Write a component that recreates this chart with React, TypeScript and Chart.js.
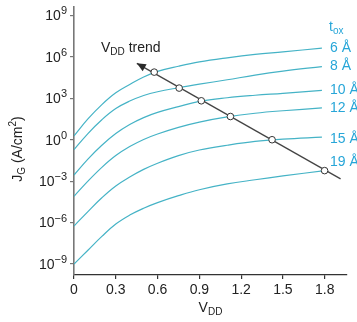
import React, { useEffect, useRef } from "react";
import { Chart, registerables } from "chart.js";

Chart.register(...registerables);

// ---- data ----
const voltages = [0, 0.1, 0.2, 0.3, 0.4, 0.5, 0.6, 0.75, 0.9, 1.1, 1.3, 1.5, 1.78];
const voltages19 = [0, 0.1, 0.2, 0.3, 0.4, 0.5, 0.6, 0.75, 0.9, 1.1, 1.3, 1.5, 1.8];

const jg6A = [1.9e0, 3.2e1, 3.5e2, 2.5e3, 1.0e4, 3.5e4, 8.9e4, 2.1e5, 4.3e5, 8.5e5, 1.5e6, 2.3e6, 4.3e6];
const jg8A = [1.9e-1, 2.8e0, 2.8e1, 1.8e2, 6.3e2, 1.6e3, 3.0e3, 5.8e3, 1.05e4, 2.2e4, 4.8e4, 9.3e4, 2.0e5];
const jg10A = [2.8e-3, 4.0e-2, 4.0e-1, 2.8e0, 1.26e1, 4.0e1, 9.5e1, 2.5e2, 6.0e2, 1.1e3, 1.66e3, 2.3e3, 3.8e3];
const jg12A = [8.0e-5, 1.0e-3, 1.0e-2, 7.1e-2, 3.2e-1, 1.05e0, 2.6e0, 7.9e0, 1.9e1, 4.5e1, 8.3e1, 1.26e2, 2.0e2];
const jg15A = [5.6e-7, 6.3e-6, 6.3e-5, 4.5e-4, 2.0e-3, 7.1e-3, 2.0e-2, 7.1e-2, 1.8e-1, 4.0e-1, 7.6e-1, 1.1e0, 1.55e0];
const jg19A = [1.0e-9, 1.0e-8, 1.0e-7, 7.9e-7, 3.5e-6, 1.1e-5, 2.8e-5, 8.9e-5, 2.4e-4, 6.3e-4, 1.26e-3, 2.4e-3, 5.8e-3];

const oxideLabels = ["6 Å", "8 Å", "10 Å", "12 Å", "15 Å", "19 Å"];

const markerV = [0.576, 0.755, 0.914, 1.123, 1.422, 1.799];
const markerJ = [7.9e4, 5.5e3, 6.6e2, 4.8e1, 1.0e0, 5.8e-3];

const trendV = [0.451, 1.914];
const trendJ = [3.4e5, 1.45e-3];

const xTicks = [0, 0.3, 0.6, 0.9, 1.2, 1.5, 1.8];
const yTicks = [1e9, 1e6, 1e3, 1e0, 1e-3, 1e-6, 1e-9];
const yTickExponents = ["9", "6", "3", "0", "\u22123", "\u22126", "\u22129"];

// ---- style / layout ----
const FONT = "'Liberation Sans', Arial, Helvetica, sans-serif";
const CURVE_COLOR = "#45b3c6";
const LABEL_COLOR = "#27a6d8";
const TEXT_COLOR = "#222222";
const labelDy = [0, 0, 0, 0, 2.5, -8];

function toPoints(xs: number[], ys: number[]) {
  return xs.map((x, i) => ({ x, y: ys[i] }));
}

export default function App() {
  const canvasRef = useRef<HTMLCanvasElement | null>(null);

  useEffect(() => {
    const canvas = canvasRef.current;
    if (!canvas) return;

    const curves = [
      toPoints(voltages, jg6A),
      toPoints(voltages, jg8A),
      toPoints(voltages, jg10A),
      toPoints(voltages, jg12A),
      toPoints(voltages, jg15A),
      toPoints(voltages19, jg19A),
    ];

    const drawRich = (
      ctx: CanvasRenderingContext2D,
      parts: { t: string; size: number; dy: number }[],
      x: number,
      y: number,
      align: "left" | "center" | "right"
    ) => {
      let total = 0;
      const widths = parts.map((p) => {
        ctx.font = `${p.size}px ${FONT}`;
        const w = ctx.measureText(p.t).width;
        total += w;
        return w;
      });
      let cx = align === "left" ? x : align === "center" ? x - total / 2 : x - total;
      parts.forEach((p, i) => {
        ctx.font = `${p.size}px ${FONT}`;
        ctx.textAlign = "left";
        ctx.textBaseline = "alphabetic";
        ctx.fillText(p.t, cx, y + p.dy);
        cx += widths[i];
      });
    };

    const annotations = {
      id: "annotations",
      afterDatasetsDraw(chart: any) {
        const ctx: CanvasRenderingContext2D = chart.ctx;
        const xs = chart.scales.x;
        const ys = chart.scales.y;
        ctx.save();

        // arrowhead on trend line
        const x0 = xs.getPixelForValue(trendV[0]);
        const y0 = ys.getPixelForValue(trendJ[0]);
        const x1 = xs.getPixelForValue(trendV[1]);
        const y1 = ys.getPixelForValue(trendJ[1]);
        const ang = Math.atan2(y0 - y1, x0 - x1);
        const L = 9;
        const W = 4;
        ctx.fillStyle = "#2a2a2a";
        ctx.beginPath();
        ctx.moveTo(x0, y0);
        ctx.lineTo(
          x0 - L * Math.cos(ang) + W * Math.sin(ang),
          y0 - L * Math.sin(ang) - W * Math.cos(ang)
        );
        ctx.lineTo(
          x0 - L * Math.cos(ang) - W * Math.sin(ang),
          y0 - L * Math.sin(ang) + W * Math.cos(ang)
        );
        ctx.closePath();
        ctx.fill();

        // curve labels
        ctx.fillStyle = LABEL_COLOR;
        ctx.font = `14px ${FONT}`;
        ctx.textAlign = "left";
        ctx.textBaseline = "middle";
        curves.forEach((pts, i) => {
          const last = pts[pts.length - 1];
          const py = ys.getPixelForValue(last.y) + labelDy[i];
          ctx.fillText(oxideLabels[i], xs.right - 17, py);
        });
        // t_ox header
        drawRich(
          ctx,
          [
            { t: "t", size: 14, dy: 0 },
            { t: "ox", size: 10, dy: 3 },
          ],
          xs.right - 18,
          31,
          "left"
        );

        // V_DD trend
        ctx.fillStyle = TEXT_COLOR;
        drawRich(
          ctx,
          [
            { t: "V", size: 14, dy: 0 },
            { t: "DD", size: 10, dy: 3 },
            { t: " trend", size: 14, dy: 0 },
          ],
          101,
          51.5,
          "left"
        );

        // y tick labels 10^n
        yTicks.forEach((v, i) => {
          const py = ys.getPixelForValue(v);
          ctx.font = `11px ${FONT}`;
          const ew = ctx.measureText(yTickExponents[i]).width;
          const right = xs.left - 7;
          ctx.textAlign = "left";
          ctx.textBaseline = "alphabetic";
          ctx.fillText(yTickExponents[i], right - ew, py - 1);
          ctx.font = `14px ${FONT}`;
          ctx.textAlign = "right";
          ctx.textBaseline = "middle";
          ctx.fillText("10", right - ew, py + 1);
        });

        // x title
        drawRich(
          ctx,
          [
            { t: "V", size: 14, dy: 0 },
            { t: "DD", size: 10, dy: 3 },
          ],
          (xs.left + xs.right) / 2,
          312,
          "center"
        );

        // y title rotated
        ctx.translate(22, (ys.top + ys.bottom) / 2 + 8);
        ctx.rotate(-Math.PI / 2);
        drawRich(
          ctx,
          [
            { t: "J", size: 14, dy: 0 },
            { t: "G", size: 10, dy: 3 },
            { t: " (A/cm", size: 14, dy: 0 },
            { t: "2", size: 10, dy: -6 },
            { t: ")", size: 14, dy: 0 },
          ],
          0,
          0,
          "center"
        );
        ctx.restore();
      },
    };

    const curveDatasets = curves.map((pts) => ({
      type: "line" as const,
      data: pts,
      borderColor: CURVE_COLOR,
      borderWidth: 1.2,
      pointRadius: 0,
      fill: false,
      tension: 0.4,
    }));

    const chart = new Chart(canvas, {
      type: "line",
      data: {
        datasets: [
          {
            type: "line",
            data: toPoints(markerV, markerJ),
            showLine: false,
            pointRadius: 3.3,
            pointBackgroundColor: "#ffffff",
            pointBorderColor: "#333333",
            pointBorderWidth: 1,
            borderColor: "#333333",
          },
          {
            type: "line",
            data: toPoints(trendV, trendJ),
            borderColor: "#444444",
            borderWidth: 1.3,
            pointRadius: 0,
            fill: false,
          },
          ...curveDatasets,
        ] as any,
      },
      options: {
        responsive: false,
        animation: false,
        devicePixelRatio: 1,
        layout: { padding: { top: 7, right: 10, left: 0, bottom: 0 } },
        plugins: {
          legend: { display: false },
          tooltip: { enabled: false },
        },
        scales: {
          x: {
            type: "linear",
            min: 0,
            max: 1.96,
            afterFit(scale: any) {
              scale.height = 47;
            },
            afterBuildTicks(scale: any) {
              scale.ticks = xTicks.map((v) => ({ value: v }));
            },
            ticks: {
              color: TEXT_COLOR,
              font: { family: FONT, size: 14 },
              padding: 3,
              maxRotation: 0,
              autoSkip: false,
              callback: (v: any) => String(v),
            },
            grid: {
              drawOnChartArea: false,
              drawTicks: true,
              tickLength: 4,
              color: "#333333",
              lineWidth: 1.2,
            },
            border: { color: "#333333", width: 1.3 },
          },
          y: {
            type: "logarithmic",
            min: 1.6e-10,
            max: 4.1e9,
            afterFit(scale: any) {
              scale.width = 74;
            },
            afterBuildTicks(scale: any) {
              scale.ticks = yTicks.map((v) => ({ value: v }));
            },
            ticks: { display: false },
            grid: {
              drawOnChartArea: false,
              drawTicks: true,
              tickLength: 4,
              color: "#777777",
              lineWidth: 1.2,
            },
            border: { color: "#777777", width: 1.6 },
          },
        },
      } as any,
      plugins: [annotations],
    });

    return () => chart.destroy();
  }, []);

  return (
    <div style={{ position: "fixed", left: 0, top: 0, width: 357, height: 322, background: "#ffffff" }}>
      <canvas ref={canvasRef} width={357} height={322} style={{ display: "block", width: 357, height: 322 }} />
    </div>
  );
}
